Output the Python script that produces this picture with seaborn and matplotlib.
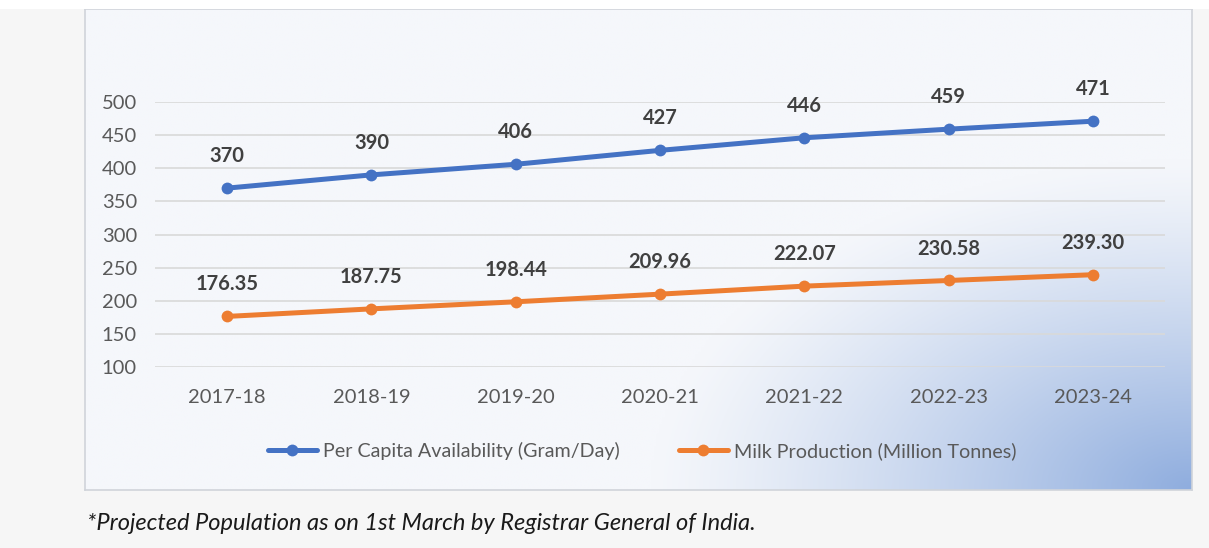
import numpy as np
import pandas as pd
import matplotlib
matplotlib.use("Agg")
import matplotlib.pyplot as plt
import seaborn as sns
from matplotlib.colors import to_rgb
from matplotlib.patches import Rectangle

years = ["2017-18", "2018-19", "2019-20", "2020-21", "2021-22", "2022-23", "2023-24"]
per_capita = [370, 390, 406, 427, 446, 459, 471]
milk_production = [176.35, 187.75, 198.44, 209.96, 222.07, 230.58, 239.30]
series_names = ["Per Capita Availability (Gram/Day)", "Milk Production (Million Tonnes)"]
y_ticks = [100, 150, 200, 250, 300, 350, 400, 450, 500]
footnote = "*Projected Population as on 1st March by Registrar General of India."

BLUE = "#4472C4"
ORANGE = "#ED7D31"

sns.set_theme(style="white")
plt.rcParams["font.family"] = ["Lato", "DejaVu Sans"]

W, H = 1209, 548
fig = plt.figure(figsize=(W / 100, H / 100), dpi=100)
fig.patch.set_facecolor("#f6f6f6")

# white strip above the panel
fig.patches.append(Rectangle((0, 1 - 9 / H), 1, 9 / H, transform=fig.transFigure,
                             facecolor="white", edgecolor="none", zorder=0))

# chart panel with blue gradient in the lower right corner
px0, px1, py0, py1 = 85, 1192, 9, 490
bg = fig.add_axes([px0 / W, 1 - py1 / H, (px1 - px0) / W, (py1 - py0) / H], zorder=0)
xx, yy = np.meshgrid(np.linspace(px0, px1, 400), np.linspace(py0, py1, 200))
s = np.clip(1 - np.sqrt(((px1 - xx) / 540) ** 2 + ((py1 - yy) / 330) ** 2), 0, 1) ** 1.2
c0 = np.array(to_rgb("#f5f7fb"))
c1 = np.array(to_rgb("#8fadde"))
img = c0[None, None, :] * (1 - s[..., None]) + c1[None, None, :] * s[..., None]
bg.imshow(img, aspect="auto", extent=[0, 1, 0, 1], origin="upper")
bg.set_xlim(0, 1)
bg.set_ylim(0, 1)
bg.set_xticks([])
bg.set_yticks([])
for sp in bg.spines.values():
    sp.set_color("#d0d4da")
    sp.set_linewidth(1.2)

# main chart
ax = fig.add_axes([155 / W, 1 - 367 / H, (1165 - 155) / W, (367 - 102) / H], zorder=1)
ax.patch.set_alpha(0)

df = pd.DataFrame({
    "year": years * 2,
    "value": per_capita + milk_production,
    "series": [series_names[0]] * len(years) + [series_names[1]] * len(years),
})

sns.lineplot(data=df, x="year", y="value", hue="series", palette=[BLUE, ORANGE],
             marker="o", markersize=8.5, markeredgewidth=0, linewidth=3.6,
             sort=False, ax=ax, legend=False)

for i, v in enumerate(per_capita):
    ax.annotate(f"{v}", (i, v), xytext=(0, 23), textcoords="offset points",
                ha="center", va="center", fontsize=14.5, fontweight="bold", color="#404040")
for i, v in enumerate(milk_production):
    ax.annotate(f"{v:.2f}", (i, v), xytext=(0, 23), textcoords="offset points",
                ha="center", va="center", fontsize=14.5, fontweight="bold", color="#404040")

ax.set_xlim(-0.5, len(years) - 0.5)
ax.set_ylim(100, 500)
ax.set_yticks(y_ticks)
ax.yaxis.grid(True, color="#d9d9d9", linewidth=1.2)
ax.xaxis.grid(False)
ax.set_axisbelow(True)
for sp in ax.spines.values():
    sp.set_visible(False)
ax.tick_params(axis="x", length=0, pad=16, labelsize=14.5, labelcolor="#595959")
ax.tick_params(axis="y", length=0, pad=13, labelsize=14.5, labelcolor="#595959")
ax.set_xlabel("")
ax.set_ylabel("")

# legend
handles = [
    plt.Line2D([], [], color=BLUE, linewidth=3.6, marker="o", markersize=8.5, markeredgewidth=0),
    plt.Line2D([], [], color=ORANGE, linewidth=3.6, marker="o", markersize=8.5, markeredgewidth=0),
]
fig.legend(handles, series_names, loc="center", bbox_to_anchor=(642 / W, 1 - 451 / H),
           ncol=2, frameon=False, fontsize=14.2, handlelength=2.5, handletextpad=0.3,
           columnspacing=3.0, labelcolor="#595959")

fig.text(87 / W, 1 - 523 / H, footnote, ha="left", va="center", fontsize=17,
         style="italic", color="#1a1a1a")

fig.savefig("out.png", dpi=100, facecolor=fig.get_facecolor())
